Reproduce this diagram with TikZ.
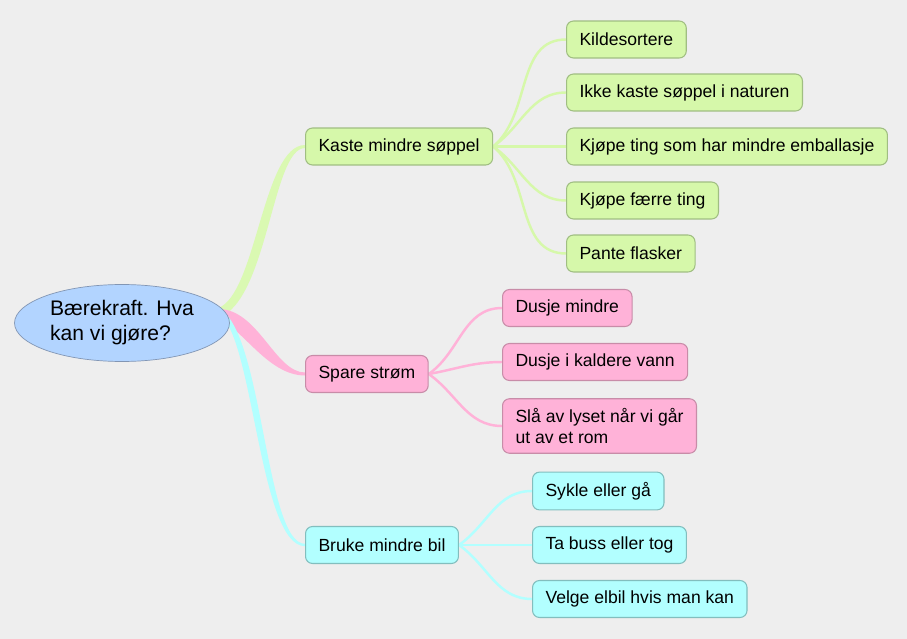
\documentclass[tikz,border=0pt]{standalone}
\usepackage{fontspec}
\setmainfont{Liberation Sans}
\usetikzlibrary{shapes.geometric,calc}

\definecolor{paperbg}{RGB}{238,238,238}
\definecolor{ideablue}{RGB}{178,212,255}
\definecolor{idealine}{RGB}{130,150,180}
\definecolor{kgreen}{RGB}{214,248,170}
\definecolor{kgreenline}{RGB}{160,190,130}
\definecolor{kpink}{RGB}{255,178,216}
\definecolor{kpinkline}{RGB}{200,140,168}
\definecolor{kcyan}{RGB}{178,255,255}
\definecolor{kcyanline}{RGB}{130,190,190}

\pgfdeclarelayer{paper}
\pgfdeclarelayer{links}
\pgfsetlayers{paper,links,main}

\begin{document}
\begin{tikzpicture}[
    x=0.02cm, y=-0.02cm,
    idea/.style={ellipse, draw=idealine, fill=ideablue, minimum width=4.3cm, minimum height=1.54cm, inner sep=0pt, align=left, font=\fontsize{12}{14.2}\selectfont},
    box/.style={draw, rounded corners=4pt, anchor=west, minimum height=0.74cm, inner xsep=0.26cm, inner ysep=0.2cm, align=left, font=\fontsize{10}{11.5}\selectfont, line width=0.6pt},
    greenbox/.style={box, fill=kgreen, draw=kgreenline},
    pinkbox/.style={box, fill=kpink, draw=kpinkline},
    cyanbox/.style={box, fill=kcyan, draw=kcyanline},
    twig/.style={line width=1.4pt},
]

\useasboundingbox (0,0) rectangle (907,639);
\begin{pgfonlayer}{paper}
\fill[paperbg] (0,0) rectangle (907,639);
\end{pgfonlayer}

% Centre
\node[idea] (idea) at (122,323) {Bærekraft. Hva\\kan vi gjøre?};

% Branches
\node[greenbox] (kaste) at (305,146.5) {Kaste mindre søppel};
\node[pinkbox] (spare) at (305,374) {Spare strøm};
\node[cyanbox] (bruke) at (305,545) {Bruke mindre bil};

% Leaves
\node[greenbox] (kilde) at (566,39.5) {Kildesortere};
\node[greenbox] (natur) at (566,92.5) {Ikke kaste søppel i naturen};
\node[greenbox] (embal) at (566,146.5) {Kjøpe ting som har mindre emballasje};
\node[greenbox] (faerre) at (566,200.5) {Kjøpe færre ting};
\node[greenbox] (pante) at (566,253.5) {Pante flasker};

\node[pinkbox] (dusje) at (502,308) {Dusje mindre};
\node[pinkbox] (kald) at (502,362) {Dusje i kaldere vann};
\node[pinkbox] (lyset) at (502,426) {Slå av lyset når vi går\\ut av et rom};

\node[cyanbox] (sykle) at (532,491) {Sykle eller gå};
\node[cyanbox] (buss) at (532,545) {Ta buss eller tog};
\node[cyanbox] (elbil) at (532,599) {Velge elbil hvis man kan};

\begin{pgfonlayer}{links}
% Tapered branches
\fill[kgreen!90!white] ($(idea.east)+(-11.5,-5)$) .. controls +(50,-18) and +(-33,0) .. ($(kaste.west)+(0,1.5)$)
    -- ($(kaste.west)+(0,-1.5)$) .. controls +(-42,0) and +(38,-14) .. ($(idea.east)+(-11.5,-15)$) -- cycle;
\fill[kpink] ($(idea.east)+(-11.5,-14)$) .. controls +(40,0) and +(-30,0) .. ($(spare.west)+(0,-1.5)$)
    -- ($(spare.west)+(0,1.5)$) .. controls +(-37,0) and +(24,9) .. ($(idea.east)+(-11.5,-4)$) -- cycle;
\fill[kcyan] ($(idea.east)+(-11.5,-9)$) .. controls +(35,18) and +(-46,0) .. ($(bruke.west)+(0,1.2)$)
    -- ($(bruke.west)+(0,-1.2)$) .. controls +(-40,0) and +(45,22) .. ($(idea.east)+(-11.5,-15)$) -- cycle;

% Twigs
\draw[twig, kgreen] (kaste.east) to[out=40, in=180] (kilde.west);
\draw[twig, kgreen] (kaste.east) to[out=35, in=180] (natur.west);
\draw[twig, kgreen] (kaste.east) -- (embal.west);
\draw[twig, kgreen] (kaste.east) to[out=-35, in=180] (faerre.west);
\draw[twig, kgreen] (kaste.east) to[out=-40, in=180] (pante.west);

\draw[twig, kpink] (spare.east) to[out=35, in=180] (dusje.west);
\draw[twig, kpink] (spare.east) to[out=10, in=180] (kald.west);
\draw[twig, kpink] (spare.east) to[out=-35, in=180] (lyset.west);

\draw[twig, kcyan] (bruke.east) to[out=35, in=180] (sykle.west);
\draw[twig, kcyan] (bruke.east) -- (buss.west);
\draw[twig, kcyan] (bruke.east) to[out=-35, in=180] (elbil.west);
\end{pgfonlayer}

\end{tikzpicture}
\end{document}
